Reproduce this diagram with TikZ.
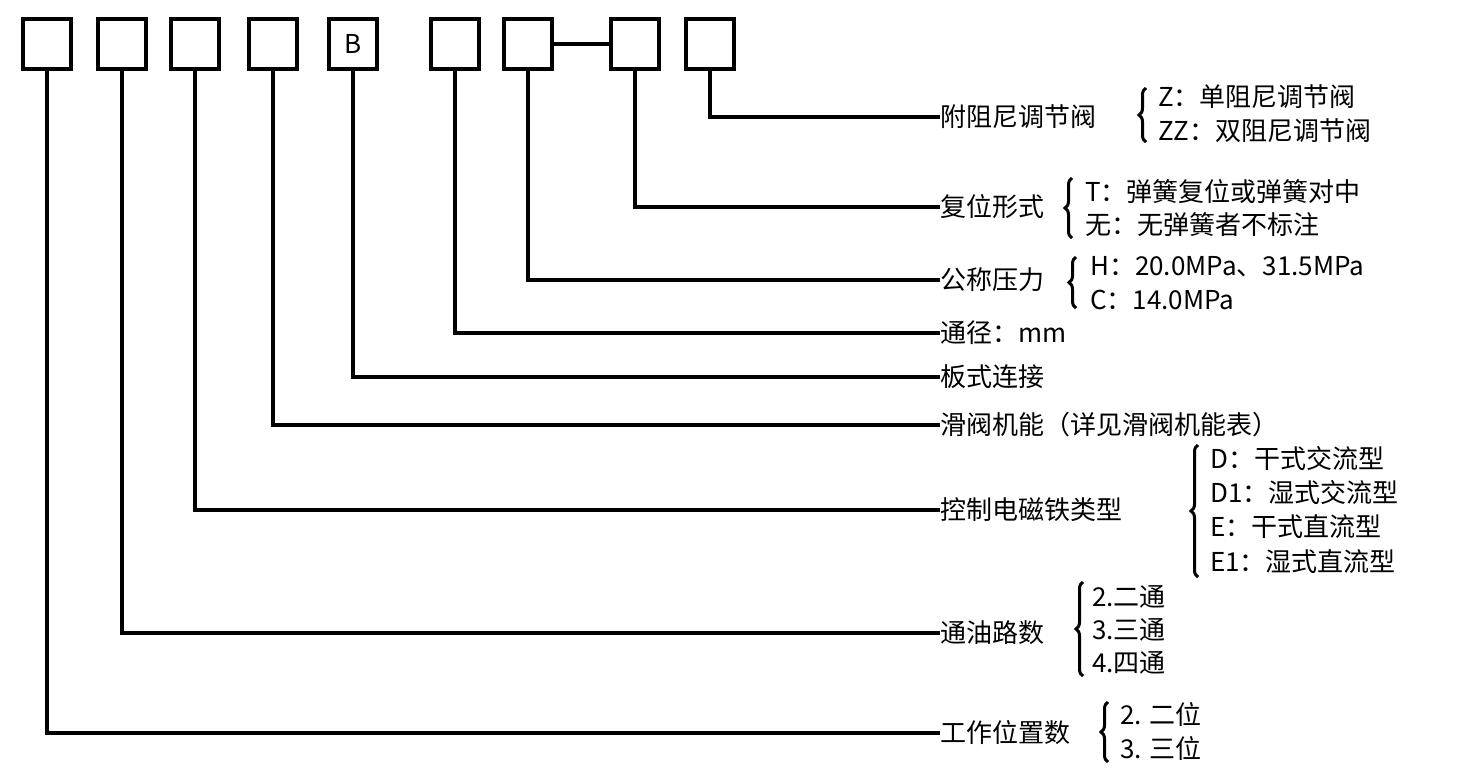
\documentclass[tikz,border=0pt]{standalone}
\usepackage{fontspec}
\setmainfont{Noto Sans CJK SC}
\usetikzlibrary{decorations.pathreplacing}
\begin{document}
\begin{tikzpicture}[x=1pt,y=-1pt,
  bx/.style={draw,line width=3.5pt,minimum width=48pt,minimum height=50pt,inner sep=0pt,font=\fontsize{26}{28}\selectfont},
  ln/.style={line width=3.5pt},
  lbl/.style={anchor=west,inner sep=0pt,font=\fontsize{26}{28}\selectfont},
  br/.style={decorate,decoration={brace,amplitude=7pt,mirror},line width=3pt}]
\useasboundingbox (0,0) rectangle (1457,769);
\node[bx] (b1) at (47,44) {};
\node[bx] (b2) at (122,44) {};
\node[bx] (b3) at (195,44) {};
\node[bx] (b4) at (273,44) {};
\node[bx] (b5) at (353,44) {B};
\node[bx] (b6) at (455,44) {};
\node[bx] (b7) at (528,44) {};
\node[bx] (b8) at (635,44) {};
\node[bx] (b9) at (710,44) {};
\draw[ln] (b7.east) -- (b8.west);
% labels
\node[lbl] (l9) at (940,117) {附阻尼调节阀};
\node[lbl] (l8) at (940,207) {复位形式};
\node[lbl] (l7) at (940,280) {公称压力};
\node[lbl] (l6) at (940,333) {通径：mm};
\node[lbl] (l5) at (940,377) {板式连接};
\node[lbl] (l4) at (940,425) {滑阀机能（详见滑阀机能表）};
\node[lbl] (l3) at (940,510) {控制电磁铁类型};
\node[lbl] (l2) at (940,633) {通油路数};
\node[lbl] (l1) at (940,733) {工作位置数};
\foreach \i in {1,...,9}{\draw[ln] (b\i.south) |- (l\i.west);}
% options
\draw[br] (1146,88) -- (1146,142);
\node[lbl] at (1158,97) {Z：单阻尼调节阀};
\node[lbl] at (1158,131) {ZZ：双阻尼调节阀};
\draw[br] (1072,178) -- (1072,238);
\node[lbl] at (1085,192) {T：弹簧复位或弹簧对中};
\node[lbl] at (1085,225) {无：无弹簧者不标注};
\draw[br] (1076,257) -- (1076,308);
\node[lbl] at (1090,267) {H：20.0MPa、31.5MPa};
\node[lbl] at (1090,300) {C：14.0MPa};
\draw[br] (1198,445) -- (1198,577);
\node[lbl] at (1210,459) {D：干式交流型};
\node[lbl] at (1210,493) {D1：湿式交流型};
\node[lbl] at (1210,527) {E：干式直流型};
\node[lbl] at (1210,562) {E1：湿式直流型};
\draw[br] (1083,582) -- (1083,676);
\node[lbl] at (1092,597) {2.二通};
\node[lbl] at (1092,630) {3.三通};
\node[lbl] at (1092,663) {4.四通};
\draw[br] (1108,702) -- (1108,762);
\node[lbl] at (1120,714) {2. 二位};
\node[lbl] at (1120,748) {3. 三位};
\end{tikzpicture}
\end{document}
